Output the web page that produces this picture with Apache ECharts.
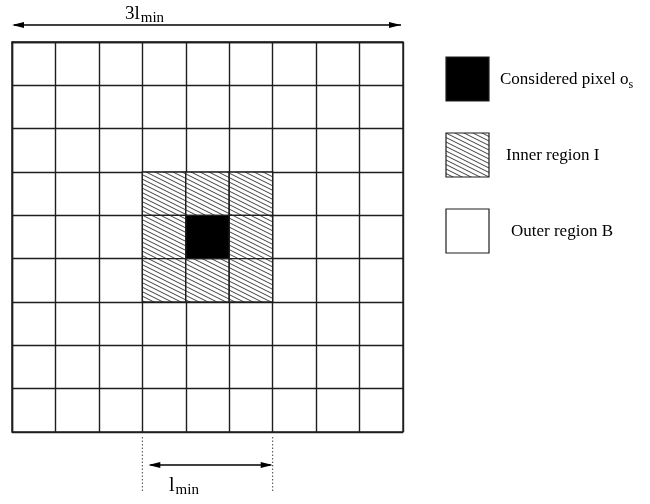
<!DOCTYPE html>
<html>
<head>
<meta charset="utf-8">
<script src="https://cdn.jsdelivr.net/npm/echarts@6/dist/echarts.min.js"></script>
<style>
  html, body { margin: 0; padding: 0; background: #fff; }
  #chart { width: 650px; height: 504px; }
</style>
</head>
<body>
<div id="chart"></div>
<script>
// 9 x 9 pixel neighbourhood, columns/rows counted from top-left.
const GRID_CELLS = 9;
const CENTER_CELLS = [[4, 4]];
const INNER_CELLS = [[3, 3], [4, 3], [5, 3], [3, 4], [5, 4], [3, 5], [4, 5], [5, 5]];
const LEGEND_LABELS = ['Considered pixel o{sub|s}', 'Inner region I', 'Outer region B'];
const SPAN_LABELS = ['3l', 'l'];

const FONT = '"Liberation Serif", "Times New Roman", serif';
const LINE = '#1e1e1e';

// Plot area in pixels (the grid of cells).
const G = { left: 12, top: 42, width: 391, height: 390 };

// Diagonal hatch drawn once into a small canvas and reused as a repeating fill.
function hatchPattern() {
  const c = document.createElement('canvas');
  c.width = 18; c.height = 9;
  const ctx = c.getContext('2d');
  ctx.fillStyle = '#fff';
  ctx.fillRect(0, 0, 18, 9);
  ctx.strokeStyle = '#2a2a2a';
  ctx.lineWidth = 0.9;
  for (let k = -4; k <= 4; k++) {
    ctx.beginPath();
    ctx.moveTo(-2, k * 4.5 - 1);
    ctx.lineTo(20, k * 4.5 + 10);
    ctx.stroke();
  }
  return { image: c, repeat: 'repeat' };
}
const HATCH = hatchPattern();

function cellSeries(name, cells, fill) {
  return {
    name,
    type: 'custom',
    coordinateSystem: 'cartesian2d',
    data: cells,
    z: 3,
    renderItem: (params, api) => {
      const a = api.coord([api.value(0), api.value(1)]);
      const b = api.coord([api.value(0) + 1, api.value(1) + 1]);
      return {
        type: 'rect',
        shape: {
          x: Math.min(a[0], b[0]), y: Math.min(a[1], b[1]),
          width: Math.abs(b[0] - a[0]), height: Math.abs(b[1] - a[1]),
        },
        style: { fill, stroke: LINE, lineWidth: 1.4 },
      };
    },
  };
}

function legendGraphics() {
  const boxes = [
    { y: 57, fill: '#000' },
    { y: 133, fill: HATCH },
    { y: 209, fill: '#fff' },
  ];
  const textX = [500, 506, 511];
  const out = [];
  boxes.forEach((b, i) => {
    out.push({
      type: 'rect',
      shape: { x: 446, y: b.y, width: 43, height: 44 },
      style: { fill: b.fill, stroke: LINE, lineWidth: 1.2 },
    });
    out.push({
      type: 'text',
      x: textX[i], y: b.y + 23,
      style: {
        text: LEGEND_LABELS[i],
        font: '17px ' + FONT,
        fill: '#000',
        verticalAlign: 'middle',
        rich: { sub: { fontSize: 12, fontFamily: FONT, padding: [10, 0, 0, 0] } },
      },
    });
  });
  return out;
}

function spanGraphics() {
  const cw = G.width / GRID_CELLS;
  const x3 = G.left + 3 * cw;
  const x6 = G.left + 6 * cw;
  return [
    // top span over the whole neighbourhood
    {
      type: 'line',
      shape: { x1: G.left + 2, y1: 25, x2: G.left + G.width - 2, y2: 25 },
      style: { stroke: '#000', lineWidth: 1.3 },
    },
    { type: 'polygon', shape: { points: [[G.left, 25], [G.left + 12, 22], [G.left + 12, 28]] }, style: { fill: '#000' } },
    { type: 'polygon', shape: { points: [[G.left + G.width - 2, 25], [G.left + G.width - 14, 22], [G.left + G.width - 14, 28]] }, style: { fill: '#000' } },
    {
      type: 'text', x: 125, y: 3,
      style: {
        text: SPAN_LABELS[0] + '{sub|min}',
        font: '19px ' + FONT, fill: '#000',
        rich: { sub: { fontSize: 15, fontFamily: FONT, padding: [8, 0, 0, 1] } },
      },
    },
    // bottom span of one inner width
    { type: 'line', shape: { x1: x3, y1: 437, x2: x3, y2: 492 }, style: { stroke: '#444', lineWidth: 1, lineDash: [1.5, 2] } },
    { type: 'line', shape: { x1: x6, y1: 437, x2: x6, y2: 492 }, style: { stroke: '#444', lineWidth: 1, lineDash: [1.5, 2] } },
    { type: 'line', shape: { x1: x3 + 8, y1: 465, x2: x6 - 2, y2: 465 }, style: { stroke: '#000', lineWidth: 1.3 } },
    { type: 'polygon', shape: { points: [[x3 + 6, 465], [x3 + 18, 462], [x3 + 18, 468]] }, style: { fill: '#000' } },
    { type: 'polygon', shape: { points: [[x6, 465], [x6 - 12, 462], [x6 - 12, 468]] }, style: { fill: '#000' } },
    {
      type: 'text', x: 169, y: 474,
      style: {
        text: SPAN_LABELS[1] + '{sub|min}',
        font: '20px ' + FONT, fill: '#000',
        rich: { sub: { fontSize: 15, fontFamily: FONT, padding: [9, 0, 0, 1] } },
      },
    },
  ];
}

const chart = echarts.init(document.getElementById('chart'), null, { renderer: 'canvas' });

const axisCommon = {
  type: 'value',
  min: 0,
  max: GRID_CELLS,
  interval: 1,
  axisLabel: { show: false },
  axisTick: { show: false },
  axisLine: { show: true, lineStyle: { color: LINE, width: 1.4 } },
  splitLine: { show: true, lineStyle: { color: LINE, width: 1.4 } },
};

chart.setOption({
  animation: false,
  backgroundColor: '#fff',
  grid: {
    left: G.left, top: G.top, width: G.width, height: G.height,
    show: true, borderColor: LINE, borderWidth: 1.4, backgroundColor: '#fff',
  },
  xAxis: { ...axisCommon },
  yAxis: { ...axisCommon, inverse: true },
  series: [
    cellSeries('Inner region I', INNER_CELLS, HATCH),
    cellSeries('Considered pixel', CENTER_CELLS, '#000'),
  ],
  graphic: [...legendGraphics(), ...spanGraphics()],
});
</script>
</body>
</html>
